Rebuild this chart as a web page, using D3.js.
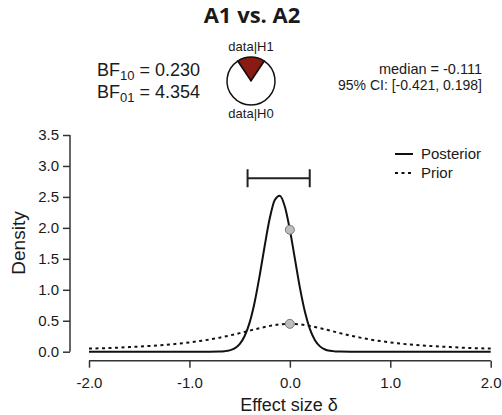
<!DOCTYPE html>
<html>
<head>
<meta charset="utf-8">
<script src="https://cdn.jsdelivr.net/npm/d3@7"></script>
<style>
  html, body { margin: 0; padding: 0; background: #fff; }
  svg { display: block; }
  text { font-family: "Liberation Sans", Arial, sans-serif; fill: #1a1a1a; }
</style>
</head>
<body>
<svg id="chart" width="502" height="415"></svg>
<script>
// ---- data ----
const title = "A1 vs. A2";
const bf10 = "0.230";
const bf01 = "4.354";
const medianText = "median = -0.111";
const ciText = "95% CI: [-0.421, 0.198]";
const ciLow = -0.421;
const ciHigh = 0.198;
const pieLabels = ["data|H1", "data|H0"];
const pieValues = [0.230, 1.0];           // BF10 : 1
const xTicks = [-2, -1, 0, 1, 2];
const xTickLabels = ["-2.0", "-1.0", "0.0", "1.0", "2.0"];
const yTicks = [0, 0.5, 1, 1.5, 2, 2.5, 3, 3.5];
const yTickLabels = ["0.0", "0.5", "1.0", "1.5", "2.0", "2.5", "3.0", "3.5"];
const postX = [-2.0, -1.5, -1.0, -0.8, -0.7, -0.65, -0.6, -0.55, -0.5, -0.45, -0.4, -0.35, -0.3, -0.25, -0.2, -0.15, -0.1, -0.05, 0.0, 0.05, 0.1, 0.15, 0.2, 0.25, 0.3, 0.35, 0.4, 0.45, 0.5, 0.6, 0.8, 1.0, 1.5, 2.0];
const postY = [0, 0, 0, 0, 0.002, 0.008, 0.021, 0.053, 0.122, 0.253, 0.474, 0.804, 1.235, 1.715, 2.154, 2.449, 2.519, 2.344, 1.970, 1.503, 1.035, 0.645, 0.364, 0.186, 0.086, 0.036, 0.014, 0.005, 0.002, 0, 0, 0, 0, 0];
const priorX = [-2.0, -1.8, -1.6, -1.4, -1.2, -1.0, -0.9, -0.8, -0.7, -0.6, -0.5, -0.4, -0.3, -0.2, -0.1, 0.0, 0.1, 0.2, 0.3, 0.4, 0.5, 0.6, 0.7, 0.8, 0.9, 1.0, 1.2, 1.4, 1.6, 1.8, 2.0];
const priorY = [0.050, 0.060, 0.074, 0.092, 0.116, 0.150, 0.172, 0.197, 0.227, 0.262, 0.300, 0.341, 0.381, 0.417, 0.441, 0.450, 0.441, 0.417, 0.381, 0.341, 0.300, 0.262, 0.227, 0.197, 0.172, 0.150, 0.116, 0.092, 0.074, 0.060, 0.050];
const pointX = [0, 0];
const pointY = [1.970, 0.450];
const legendLabels = ["Posterior", "Prior"];

// ---- drawing ----
const svg = d3.select("#chart");
const x = d3.scaleLinear().domain([-2, 2]).range([89, 490.7]);
const y = d3.scaleLinear().domain([0, 3.5]).range([351.7, 135]);
const axisColor = "#333";

// Title
svg.append("text").attr("x", 252).attr("y", 23).attr("text-anchor", "middle")
  .style("font-family", "'Open Sans', sans-serif").style("font-weight", "bold").style("font-size", "22px")
  .text(title);

// BF texts
function bfLine(yb, sub, val) {
  const t = svg.append("text").attr("x", 97).attr("y", yb).style("font-size", "18px");
  t.append("tspan").text("BF");
  t.append("tspan").attr("dy", 4).style("font-size", "13px").text(sub);
  t.append("tspan").attr("dy", -4).text(" = " + val);
}
bfLine(76, "10", bf10);
bfLine(98, "01", bf01);

// Pie
const pcx = 251, pcy = 81, pr = 24;
const frac = pieValues[0] / (pieValues[0] + pieValues[1]);
const pie = d3.pie().sort(null).startAngle(-frac * Math.PI).endAngle(2 * Math.PI - frac * Math.PI);
const arc = d3.arc().innerRadius(0).outerRadius(pr);
svg.append("g").attr("transform", `translate(${pcx},${pcy})`)
  .selectAll("path").data(pie(pieValues)).join("path")
  .attr("d", arc)
  .attr("fill", (d, i) => i === 0 ? "#8b1a12" : "#fff")
  .attr("stroke", "#111").attr("stroke-width", 1.5);
svg.append("text").attr("x", pcx).attr("y", 51).attr("text-anchor", "middle").style("font-size", "13px").text(pieLabels[0]);
svg.append("text").attr("x", pcx).attr("y", 118).attr("text-anchor", "middle").style("font-size", "13px").text(pieLabels[1]);

// Median / CI text
svg.append("text").attr("x", 482).attr("y", 74).attr("text-anchor", "end").style("font-size", "14.5px").text(medianText);
svg.append("text").attr("x", 482).attr("y", 90).attr("text-anchor", "end").style("font-size", "14px").text(ciText);

// Axes
const yAxis = d3.axisLeft(y).tickValues(yTicks).tickFormat((d, i) => yTickLabels[i]).tickSize(7).tickPadding(4);
const gy = svg.append("g").attr("transform", "translate(70,0)").call(yAxis);
const xAxis = d3.axisBottom(x).tickValues(xTicks).tickFormat((d, i) => xTickLabels[i]).tickSize(7).tickPadding(10);
const gx = svg.append("g").attr("transform", "translate(0,360.7)").call(xAxis);
[gx, gy].forEach(g => {
  g.select(".domain").attr("stroke", axisColor).attr("stroke-width", 1.5);
  g.selectAll(".tick line").attr("stroke", axisColor).attr("stroke-width", 1.5);
  g.selectAll(".tick text").style("font-size", "15px").style("font-family", "'Liberation Sans', Arial, sans-serif").attr("fill", "#222");
});
gy.select(".domain").attr("d", `M0,${y(0)}V${y(3.5)}`).attr("fill", "none");
gx.select(".domain").attr("d", `M${x(-2)},0H${x(2)}`).attr("fill", "none");

// Axis titles
svg.append("text").attr("transform", "translate(25,243) rotate(-90)").attr("text-anchor", "middle")
  .style("font-size", "19px").text("Density");
svg.append("text").attr("x", 289).attr("y", 411).attr("text-anchor", "middle")
  .style("font-size", "18px").text("Effect size \u03b4");

// Prior (dotted)
const line = d3.line().curve(d3.curveMonotoneX);
svg.append("path")
  .attr("d", line(priorX.map((v, i) => [x(v), y(priorY[i])])))
  .attr("fill", "none").attr("stroke", "#111").attr("stroke-width", 2).attr("stroke-dasharray", "3,3.5");
// Posterior (solid)
svg.append("path")
  .attr("d", line(postX.map((v, i) => [x(v), y(postY[i])])))
  .attr("fill", "none").attr("stroke", "#111").attr("stroke-width", 2);

// Points
svg.selectAll("circle.pt").data(pointX.map((v, i) => [v, pointY[i]])).join("circle")
  .attr("class", "pt").attr("cx", d => x(d[0])).attr("cy", d => y(d[1])).attr("r", 4.5)
  .attr("fill", "#bdbdbd").attr("stroke", "#777").attr("stroke-width", 1);

// CI bar
const ciY = 178.3;
svg.append("path")
  .attr("d", `M${x(ciLow)},${ciY}H${x(ciHigh)}M${x(ciLow)},${ciY - 9}V${ciY + 9}M${x(ciHigh)},${ciY - 9}V${ciY + 9}`)
  .attr("stroke", "#222").attr("stroke-width", 2).attr("fill", "none");

// Legend
const legY = [154, 173];
svg.append("line").attr("x1", 395).attr("x2", 413).attr("y1", legY[0]).attr("y2", legY[0]).attr("stroke", "#111").attr("stroke-width", 2);
svg.append("line").attr("x1", 395).attr("x2", 413).attr("y1", legY[1]).attr("y2", legY[1]).attr("stroke", "#111").attr("stroke-width", 2).attr("stroke-dasharray", "3,3.5");
legendLabels.forEach((l, i) => {
  svg.append("text").attr("x", 421).attr("y", legY[i] + 5).style("font-size", "15px").text(l);
});
</script>
</body>
</html>
